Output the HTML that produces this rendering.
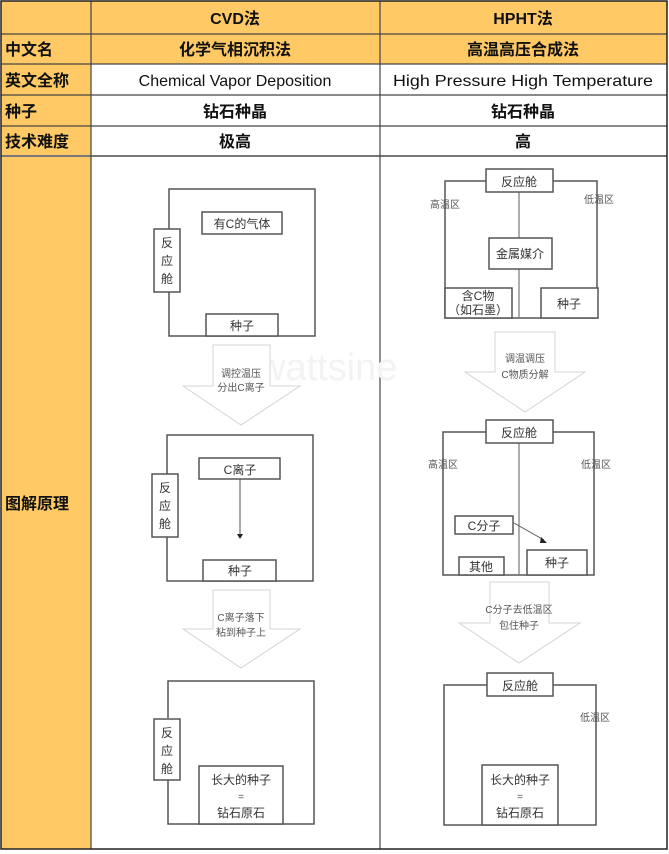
<!DOCTYPE html>
<html><head><meta charset="utf-8"><style>
html,body{margin:0;padding:0;background:#fff;}
svg{display:block;}
.h{font-family:"Liberation Sans","Noto Sans CJK SC",sans-serif;font-weight:bold;font-size:16px;fill:#111;}
.e{font-family:"Liberation Sans","Noto Sans CJK SC",sans-serif;font-size:16px;fill:#111;}
.s{font-family:"Liberation Sans","Noto Sans CJK SC",sans-serif;font-size:12px;fill:#333;}
.t{font-family:"Liberation Sans","Noto Sans CJK SC",sans-serif;font-size:10px;fill:#555;}
.b{fill:#fff;stroke:#555;stroke-width:1.5;}
.l{fill:none;stroke:#555;stroke-width:1.5;}
.ar{fill:#fff;stroke:#d4d4d4;stroke-width:1;}
</style></head><body>
<svg width="669" height="854" xmlns="http://www.w3.org/2000/svg">
<rect x="0" y="0" width="669" height="854" fill="#fff"/>
<rect x="1" y="1" width="666" height="63" fill="#FFC966"/>
<rect x="1" y="64" width="90" height="785" fill="#FFC966"/>
<g stroke="#444" stroke-width="1.2">
<line x1="1" y1="34" x2="667" y2="34"/>
<line x1="1" y1="64" x2="667" y2="64"/>
<line x1="1" y1="95" x2="667" y2="95"/>
<line x1="1" y1="126" x2="667" y2="126"/>
<line x1="1" y1="156" x2="667" y2="156" stroke="#777" stroke-width="2"/>
<line x1="91" y1="1" x2="91" y2="849"/>
<line x1="380" y1="1" x2="380" y2="849"/>
</g>
<rect x="1" y="1" width="666" height="848" fill="none" stroke="#222" stroke-width="1.5"/>
<text class="h" x="235" y="24" text-anchor="middle">CVD法</text>
<text class="h" x="523" y="24" text-anchor="middle">HPHT法</text>
<text class="h" x="5" y="55">中文名</text>
<text class="h" x="235" y="55" text-anchor="middle">化学气相沉积法</text>
<text class="h" x="523" y="55" text-anchor="middle">高温高压合成法</text>
<text class="h" x="5" y="86">英文全称</text>
<text class="e" x="235" y="86" text-anchor="middle">Chemical Vapor Deposition</text>
<text class="e" x="523" y="86" text-anchor="middle" textLength="260" lengthAdjust="spacingAndGlyphs">High Pressure High Temperature</text>
<text class="h" x="5" y="117">种子</text>
<text class="h" x="235" y="117" text-anchor="middle">钻石种晶</text>
<text class="h" x="523" y="117" text-anchor="middle">钻石种晶</text>
<text class="h" x="5" y="147">技术难度</text>
<text class="h" x="235" y="147" text-anchor="middle">极高</text>
<text class="h" x="523" y="147" text-anchor="middle">高</text>
<text class="h" x="5" y="509">图解原理</text>

<text x="258" y="380" font-family="Liberation Sans,sans-serif" font-size="38" fill="#f3f3f3">wattsine</text>

<!-- CVD -->
<rect class="b" x="169" y="189" width="146" height="147"/>
<rect class="b" x="154" y="229" width="26" height="63"/>
<text class="s" x="167" y="247" text-anchor="middle">反</text>
<text class="s" x="167" y="265" text-anchor="middle">应</text>
<text class="s" x="167" y="283" text-anchor="middle">舱</text>
<rect class="b" x="202" y="212" width="80" height="22"/>
<text class="s" x="242" y="228" text-anchor="middle">有C的气体</text>
<rect class="b" x="206" y="314" width="72" height="22"/>
<text class="s" x="242" y="330" text-anchor="middle">种子</text>
<polygon class="ar" points="213,345 270,345 270,386 300,386 241,425 183,386 213,386"/>
<text class="t" x="241" y="377" text-anchor="middle">调控温压</text>
<text class="t" x="241" y="391" text-anchor="middle">分出C离子</text>

<rect class="b" x="167" y="435" width="146" height="146"/>
<rect class="b" x="152" y="474" width="26" height="63"/>
<text class="s" x="165" y="492" text-anchor="middle">反</text>
<text class="s" x="165" y="510" text-anchor="middle">应</text>
<text class="s" x="165" y="528" text-anchor="middle">舱</text>
<rect class="b" x="199" y="458" width="81" height="21"/>
<text class="s" x="240" y="474" text-anchor="middle">C离子</text>
<line x1="240" y1="479" x2="240" y2="535" stroke="#555" stroke-width="1"/>
<polygon points="237,534 243,534 240,539" fill="#222"/>
<rect class="b" x="203" y="560" width="73" height="21"/>
<text class="s" x="240" y="575" text-anchor="middle">种子</text>
<polygon class="ar" points="213,590 270,590 270,629 300,629 241,668 183,629 213,629"/>
<text class="t" x="241" y="621" text-anchor="middle">C离子落下</text>
<text class="t" x="241" y="636" text-anchor="middle">粘到种子上</text>

<polyline class="l" points="168,718 168,681 314,681 314,824 168,824 168,778"/>
<rect class="b" x="154" y="719" width="26" height="61"/>
<text class="s" x="167" y="737" text-anchor="middle">反</text>
<text class="s" x="167" y="755" text-anchor="middle">应</text>
<text class="s" x="167" y="773" text-anchor="middle">舱</text>
<rect class="b" x="199" y="766" width="84" height="58"/>
<text class="s" x="241" y="784" text-anchor="middle">长大的种子</text>
<text class="t" x="241" y="800" text-anchor="middle">=</text>
<text class="s" x="241" y="817" text-anchor="middle">钻石原石</text>

<!-- HPHT -->
<rect class="b" x="445" y="181" width="152" height="137"/>
<line x1="519" y1="192" x2="519" y2="318" stroke="#777" stroke-width="1.2"/>
<rect class="b" x="486" y="169" width="67" height="23"/>
<text class="s" x="519" y="186" text-anchor="middle">反应舱</text>
<text class="t" x="445" y="208" text-anchor="middle">高温区</text>
<text class="t" x="599" y="203" text-anchor="middle">低温区</text>
<rect class="b" x="489" y="238" width="63" height="31"/>
<text class="s" x="520" y="258" text-anchor="middle">金属媒介</text>
<rect class="b" x="445" y="288" width="67" height="30"/>
<text class="s" x="478" y="300" text-anchor="middle" font-size="11">含C物</text>
<text class="s" x="478" y="314" text-anchor="middle" font-size="11">（如石墨）</text>
<rect class="b" x="541" y="288" width="57" height="30"/>
<text class="s" x="569" y="308" text-anchor="middle">种子</text>
<polygon class="ar" points="495,332 555,332 555,372 585,372 525,412 465,372 495,372"/>
<text class="t" x="525" y="362" text-anchor="middle">调温调压</text>
<text class="t" x="525" y="378" text-anchor="middle">C物质分解</text>

<rect class="b" x="443" y="432" width="151" height="143"/>
<line x1="519" y1="443" x2="519" y2="575" stroke="#777" stroke-width="1.2"/>
<rect class="b" x="486" y="420" width="67" height="23"/>
<text class="s" x="519" y="437" text-anchor="middle">反应舱</text>
<text class="t" x="443" y="468" text-anchor="middle">高温区</text>
<text class="t" x="596" y="468" text-anchor="middle">低温区</text>
<rect class="b" x="455" y="516" width="58" height="18"/>
<text class="s" x="484" y="530" text-anchor="middle">C分子</text>
<line x1="514" y1="523" x2="544" y2="540" stroke="#555" stroke-width="1"/>
<polygon points="541,537 547,543 540,543" fill="#222"/>
<rect class="b" x="459" y="557" width="45" height="18"/>
<text class="s" x="481" y="571" text-anchor="middle">其他</text>
<rect class="b" x="527" y="550" width="60" height="25"/>
<text class="s" x="557" y="567" text-anchor="middle">种子</text>
<polygon class="ar" points="490,582 549,582 549,623 580,623 519,663 459,623 490,623"/>
<text class="t" x="519" y="613" text-anchor="middle">C分子去低温区</text>
<text class="t" x="519" y="629" text-anchor="middle">包住种子</text>

<rect class="b" x="444" y="685" width="152" height="140"/>
<rect class="b" x="487" y="673" width="66" height="23"/>
<text class="s" x="520" y="690" text-anchor="middle">反应舱</text>
<text class="t" x="595" y="721" text-anchor="middle">低温区</text>
<rect class="b" x="482" y="765" width="76" height="60"/>
<text class="s" x="520" y="784" text-anchor="middle">长大的种子</text>
<text class="t" x="520" y="800" text-anchor="middle">=</text>
<text class="s" x="520" y="817" text-anchor="middle">钻石原石</text>
</svg>
</body></html>
